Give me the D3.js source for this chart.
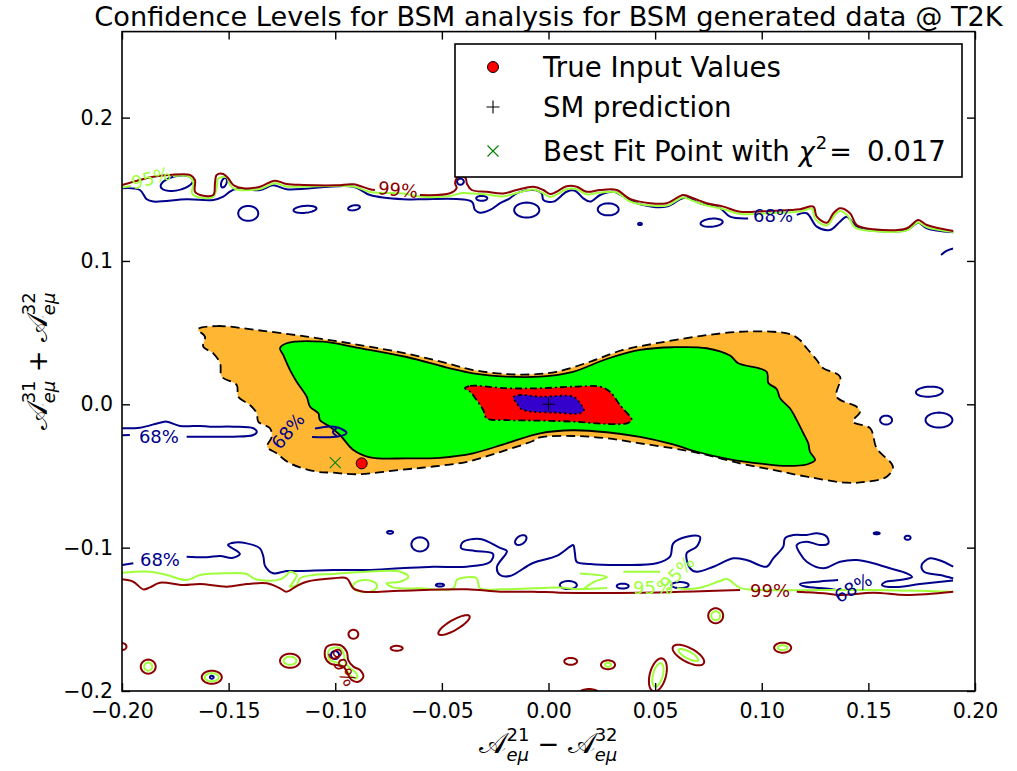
<!DOCTYPE html>
<html>
<head>
<meta charset="utf-8">
<script src="https://cdn.jsdelivr.net/npm/d3@7"></script>
<style>
  body { margin: 0; background: #fff; }
  svg text { font-family: "DejaVu Sans", sans-serif; }
</style>
</head>
<body>
<svg id="chart" width="1017" height="771"></svg>
<script>
// ---------------- data ----------------
const xTicks = [-0.2, -0.15, -0.1, -0.05, 0, 0.05, 0.1, 0.15, 0.2];
const yTicks = [-0.2, -0.1, 0, 0.1, 0.2];

// filled confidence regions (outer to inner)
const orangeRegion = [[-0.1644,0.0523],[-0.1556,0.0546],[-0.1368,0.0518],[-0.1134,0.0472],[-0.0899,0.0417],[-0.0665,0.0354],[-0.0462,0.0281],[-0.0354,0.0239],[-0.0196,0.0211],[-0.0073,0.0209],[0.0038,0.0227],[0.0195,0.0297],[0.0349,0.0379],[0.0507,0.0426],[0.0710,0.0476],[0.0898,0.0506],[0.1053,0.0506],[0.1132,0.0490],[0.1179,0.0449],[0.1211,0.0391],[0.1258,0.0309],[0.1287,0.0253],[0.1367,0.0193],[0.1351,0.0053],[0.1445,-0.0017],[0.1461,-0.0052],[0.1428,-0.0121],[0.1508,-0.0167],[0.1539,-0.0307],[0.1615,-0.0435],[0.1586,-0.0505],[0.1492,-0.0540],[0.1398,-0.0547],[0.1211,-0.0505],[0.1053,-0.0458],[0.0898,-0.0412],[0.0710,-0.0342],[0.0584,-0.0307],[0.0429,-0.0272],[0.0273,-0.0237],[0.0115,-0.0221],[-0.0040,-0.0231],[-0.0073,-0.0256],[-0.0227,-0.0333],[-0.0387,-0.0403],[-0.0542,-0.0434],[-0.0696,-0.0458],[-0.0899,-0.0488],[-0.1011,-0.0477],[-0.1087,-0.0470],[-0.1212,-0.0412],[-0.1275,-0.0342],[-0.1319,-0.0296],[-0.1298,-0.0226],[-0.1306,-0.0167],[-0.1361,-0.0121],[-0.1368,-0.0063],[-0.1400,-0.0005],[-0.1455,0.0053],[-0.1462,0.0135],[-0.1532,0.0193],[-0.1540,0.0286],[-0.1572,0.0356],[-0.1619,0.0402],[-0.1611,0.0472]];
const greenRegion = [[-0.1259,0.0391],[-0.1228,0.0426],[-0.1056,0.0437],[-0.0899,0.0396],[-0.0665,0.0330],[-0.0462,0.0251],[-0.0354,0.0216],[-0.0196,0.0193],[-0.0040,0.0193],[0.0115,0.0227],[0.0273,0.0316],[0.0429,0.0379],[0.0584,0.0398],[0.0742,0.0391],[0.0851,0.0340],[0.0890,0.0286],[0.1023,0.0227],[0.1031,0.0149],[0.1070,0.0107],[0.1086,0.0042],[0.1132,-0.0028],[0.1164,-0.0110],[0.1195,-0.0202],[0.1218,-0.0272],[0.1226,-0.0331],[0.1250,-0.0389],[0.1211,-0.0420],[0.1117,-0.0430],[0.1007,-0.0416],[0.0851,-0.0384],[0.0695,-0.0331],[0.0584,-0.0280],[0.0429,-0.0228],[0.0273,-0.0195],[0.0115,-0.0181],[-0.0040,-0.0202],[-0.0196,-0.0272],[-0.0354,-0.0342],[-0.0509,-0.0373],[-0.0665,-0.0377],[-0.0837,-0.0370],[-0.0915,-0.0319],[-0.0978,-0.0214],[-0.1025,-0.0156],[-0.1072,-0.0110],[-0.1079,-0.0063],[-0.1118,-0.0017],[-0.1134,0.0053],[-0.1181,0.0158],[-0.1212,0.0239],[-0.1244,0.0344]];
const redRegion = [[-0.0392,0.0112],[-0.0368,0.0128],[-0.0196,0.0112],[-0.0040,0.0112],[0.0116,0.0123],[0.0242,0.0123],[0.0288,0.0088],[0.0335,-0.0005],[0.0390,-0.0110],[0.0367,-0.0133],[0.0273,-0.0137],[0.0116,-0.0121],[-0.0040,-0.0114],[-0.0196,-0.0110],[-0.0290,-0.0098],[-0.0306,-0.0040],[-0.0337,0.0030],[-0.0368,0.0088]];
const blueRegion = [[-0.0165,0.0049],[-0.0134,0.0065],[-0.0040,0.0053],[0.0116,0.0053],[0.0148,0.0007],[0.0166,-0.0040],[0.0148,-0.0063],[0.0038,-0.0059],[-0.0071,-0.0052],[-0.0126,-0.0035],[-0.0149,0.0007]];

// 68% contour lines (open pieces)
const line68 = [
  [[-0.2,0.1507],[-0.1916,0.1495],[-0.1884,0.1430],[-0.1853,0.1414],[-0.1697,0.1430],[-0.1572,0.1426],[-0.1525,0.1449],[-0.1494,0.1483],[-0.1470,0.1500],[-0.1353,0.1495],[-0.1291,0.1528],[-0.1228,0.1500],[-0.0915,0.1518],[-0.0837,0.1460],[-0.0681,0.1430],[-0.0603,0.1430],[-0.0360,0.1414],[-0.0345,0.1356],[-0.0321,0.1337],[-0.0274,0.1356],[-0.0227,0.1403],[-0.0181,0.1437],[-0.0149,0.1472],[-0.0071,0.1495],[-0.0032,0.1472],[-0.0024,0.1426],[0.0023,0.1414],[0.0085,0.1483],[0.0124,0.1490],[0.0163,0.1437],[0.0195,0.1414],[0.0242,0.1460],[0.0304,0.1483],[0.0367,0.1437],[0.0429,0.1396],[0.0554,0.1379],[0.0617,0.1430],[0.0648,0.1442],[0.0710,0.1403],[0.0804,0.1368],[0.0851,0.1309],[0.0936,0.1297]],
  [[0.1164,0.1321],[0.1211,0.1333],[0.1258,0.1239],[0.1320,0.1216],[0.1367,0.1274],[0.1398,0.1309],[0.1445,0.1239],[0.1492,0.1216],[0.1680,0.1216],[0.1734,0.1267],[0.1774,0.1228],[0.1898,0.1200]],
  [[0.1841,0.1042],[0.1864,0.1069],[0.1897,0.1087]],
  [[-0.2,-0.0167],[-0.1916,-0.0163],[-0.1822,-0.0128],[-0.1790,-0.0121],[-0.1728,-0.0151],[-0.1634,-0.0151],[-0.1587,-0.0156],[-0.1478,-0.0156],[-0.1384,-0.0167],[-0.1368,-0.0191],[-0.1384,-0.0214],[-0.1478,-0.0226],[-0.1587,-0.0226],[-0.1697,-0.0226]],
  [[-0.1963,-0.0214],[-0.2,-0.0216]],
  [[-0.1095,-0.0169],[-0.1025,-0.0155],[-0.0987,-0.0162],[-0.0947,-0.0200],[-0.0987,-0.0225],[-0.1109,-0.0228]],
  [[-0.0992,-0.0164],[-0.1011,-0.0193],[-0.0992,-0.0223]],
  [[-0.2,-0.1121],[-0.1947,-0.1109]],
  [[-0.1697,-0.1063],[-0.1603,-0.1067],[-0.1540,-0.1058],[-0.1484,-0.1072],[-0.1447,-0.1044],[-0.1484,-0.1002],[-0.1503,-0.0982],[-0.1470,-0.0964],[-0.1415,-0.0970],[-0.1353,-0.1005],[-0.1337,-0.1063],[-0.1329,-0.1128],[-0.1291,-0.1179],[-0.1228,-0.1163],[-0.1165,-0.1163],[-0.1009,-0.1156],[-0.0853,-0.1156],[-0.0696,-0.1144],[-0.0540,-0.1133],[-0.0384,-0.1133],[-0.0274,-0.1100],[-0.0260,-0.1044],[-0.0345,-0.1023],[-0.0410,-0.1002],[-0.0401,-0.0961],[-0.0321,-0.0940],[-0.0227,-0.1002],[-0.0195,-0.1023],[-0.0242,-0.1135],[-0.0227,-0.1191],[-0.0181,-0.1198],[-0.0073,-0.1107],[0.0038,-0.1058],[0.0101,-0.0993],[0.0116,-0.0982],[0.0124,-0.1039],[0.0132,-0.1098],[0.0195,-0.1114],[0.0351,-0.1121],[0.0507,-0.1109],[0.0570,-0.1063],[0.0585,-0.0970],[0.0648,-0.0924],[0.0710,-0.0924],[0.0695,-0.0993],[0.0648,-0.1039],[0.0664,-0.1144],[0.0695,-0.1168],[0.0773,-0.1133],[0.0867,-0.1074],[0.0929,-0.1086],[0.1023,-0.1133],[0.1054,-0.1074],[0.1101,-0.0993],[0.1109,-0.0935],[0.1148,-0.0912],[0.1211,-0.0912],[0.1258,-0.0900],[0.1305,-0.0924],[0.1312,-0.0970],[0.1273,-0.0982],[0.1211,-0.0958],[0.1164,-0.0982],[0.1179,-0.1039],[0.1211,-0.1098],[0.1289,-0.1144],[0.1367,-0.1098],[0.1445,-0.1086],[0.1523,-0.1109],[0.1601,-0.1144],[0.1680,-0.1179],[0.1705,-0.1205],[0.1648,-0.1226],[0.1578,-0.1240],[0.1564,-0.1261],[0.1625,-0.1275],[0.1742,-0.1254],[0.1897,-0.1229]],
  [[0.1358,-0.1226],[0.1273,-0.1236],[0.1179,-0.1254],[0.1203,-0.1271],[0.1301,-0.1285],[0.1348,-0.1295]],
  [[0.1898,-0.1133],[0.1851,-0.1098],[0.1789,-0.1074],[0.1750,-0.1121],[0.1761,-0.1168],[0.1836,-0.1191],[0.1898,-0.1215]]
];

// 95% contour lines (open pieces)
const line95 = [
  [[-0.2,0.1513],[-0.1958,0.1523]],
  [[-0.1761,0.1593],[-0.1681,0.1586],[-0.1665,0.1544],[-0.1672,0.1474],[-0.1648,0.1447],[-0.1572,0.1447],[-0.1556,0.1516],[-0.1548,0.1576],[-0.1509,0.1583],[-0.1494,0.1530],[-0.1470,0.1502],[-0.1353,0.1502],[-0.1283,0.1542],[-0.1228,0.1520],[-0.0915,0.1520],[-0.0837,0.1481],[-0.0681,0.1471],[-0.0603,0.1449],[-0.0462,0.1453],[-0.0406,0.1474],[-0.0359,0.1471],[-0.0288,0.1464],[-0.0213,0.1450],[-0.0148,0.1474],[-0.0073,0.1499],[-0.0026,0.1474],[0.0007,0.1447],[0.0040,0.1464],[0.0087,0.1502],[0.0134,0.1499],[0.0181,0.1464],[0.0242,0.1478],[0.0321,0.1478],[0.0382,0.1415],[0.0476,0.1387],[0.0556,0.1387],[0.0631,0.1443],[0.0678,0.1419],[0.0743,0.1387],[0.0818,0.1363],[0.0898,0.1328],[0.1053,0.1335],[0.1179,0.1345],[0.1236,0.1363],[0.1250,0.1293],[0.1306,0.1248],[0.1339,0.1314],[0.1367,0.1349],[0.1404,0.1314],[0.1437,0.1234],[0.1522,0.1209],[0.1681,0.1213],[0.1733,0.1269],[0.1776,0.1234],[0.1897,0.1202]],
  [[-0.2,-0.1175],[-0.1869,-0.1168],[-0.1790,-0.1191],[-0.1697,-0.1226],[-0.1634,-0.1191],[-0.1509,-0.1179],[-0.1415,-0.1184],[-0.1384,-0.1214],[-0.1353,-0.1226],[-0.1259,-0.1221],[-0.1228,-0.1191],[-0.1212,-0.1168],[-0.1181,-0.1191],[-0.1197,-0.1238],[-0.1212,-0.1272],[-0.1181,-0.1261],[-0.1165,-0.1214],[-0.1103,-0.1191],[-0.1009,-0.1184],[-0.0853,-0.1168],[-0.0696,-0.1168],[-0.0657,-0.1203],[-0.0696,-0.1238],[-0.0759,-0.1249],[-0.0728,-0.1277],[-0.0603,-0.1284],[-0.0446,-0.1284],[-0.0430,-0.1226],[-0.0384,-0.1207],[-0.0337,-0.1214],[-0.0321,-0.1284],[-0.0227,-0.1291],[-0.0071,-0.1284],[0.0054,-0.1278],[0.0124,-0.1288],[0.0274,-0.1281]],
  [[0.0603,-0.1284],[0.0696,-0.1284],[0.0804,-0.1233],[0.0837,-0.1219],[0.0898,-0.1281],[0.0992,-0.1295],[0.1522,-0.1295],[0.1897,-0.1307]],
  [[0.0148,-0.1180],[0.0274,-0.1205],[0.0218,-0.1236],[0.0162,-0.1292]],
  [[0.0351,-0.1168],[0.0523,-0.1168]]
];

// 99% contour lines (open pieces)
const line99 = [
  [[-0.2,0.1530],[-0.1853,0.1588],[-0.1775,0.1600],[-0.1681,0.1600],[-0.1658,0.1565],[-0.1658,0.1483],[-0.1634,0.1460],[-0.1572,0.1460],[-0.1564,0.1542],[-0.1556,0.1600],[-0.1525,0.1607],[-0.1502,0.1577],[-0.1478,0.1530],[-0.1431,0.1507],[-0.1353,0.1518],[-0.1283,0.1560],[-0.1228,0.1537],[-0.1150,0.1530],[-0.0993,0.1528],[-0.0915,0.1535],[-0.0837,0.1500],[-0.0814,0.1495]],
  [[-0.0603,0.1460],[-0.0462,0.1472],[-0.0431,0.1509],[-0.0438,0.1542],[-0.0430,0.1577],[-0.0410,0.1590],[-0.0389,0.1579],[-0.0382,0.1537],[-0.0360,0.1495],[-0.0290,0.1483],[-0.0212,0.1471],[-0.0149,0.1495],[-0.0071,0.1518],[-0.0024,0.1495],[0.0007,0.1467],[0.0038,0.1483],[0.0085,0.1521],[0.0132,0.1518],[0.0179,0.1483],[0.0242,0.1495],[0.0320,0.1495],[0.0382,0.1433],[0.0476,0.1403],[0.0554,0.1403],[0.0632,0.1460],[0.0679,0.1437],[0.0742,0.1403],[0.0820,0.1379],[0.0898,0.1344],[0.1054,0.1351],[0.1179,0.1361],[0.1242,0.1379],[0.1258,0.1309],[0.1305,0.1267],[0.1336,0.1333],[0.1367,0.1368],[0.1414,0.1333],[0.1445,0.1251],[0.1523,0.1221],[0.1680,0.1228],[0.1734,0.1286],[0.1774,0.1251],[0.1898,0.1209]],
  [[-0.2,-0.1221],[-0.1947,-0.1238],[-0.1900,-0.1291],[-0.1869,-0.1277],[-0.1822,-0.1245],[-0.1713,-0.1261],[-0.1634,-0.1254],[-0.1509,-0.1272],[-0.1415,-0.1254],[-0.1321,-0.1249],[-0.1259,-0.1284],[-0.1228,-0.1307],[-0.1181,-0.1268],[-0.1134,-0.1238],[-0.1009,-0.1214],[-0.0946,-0.1214],[-0.0915,-0.1284],[-0.0868,-0.1307],[-0.0696,-0.1300],[-0.0384,-0.1291],[-0.0227,-0.1307],[-0.0071,-0.1307],[0.0054,-0.1314],[0.0429,-0.1314],[0.0898,-0.1295]],
  [[0.1164,-0.1307],[0.1289,-0.1318],[0.1367,-0.1330],[0.1523,-0.1314],[0.1680,-0.1330],[0.1898,-0.1307]]
];

// closed contour pieces near (-0.1, -0.18)
const loop95 = [[-0.1025,-0.1707],[-0.0978,-0.1700],[-0.0959,-0.1749],[-0.0954,-0.1798],[-0.0931,-0.1840],[-0.0903,-0.1874],[-0.0898,-0.1909],[-0.0921,-0.1902],[-0.0954,-0.1840],[-0.0987,-0.1805],[-0.1025,-0.1784],[-0.1034,-0.1742]];
const loop99 = [[-0.1040,-0.1691],[-0.0978,-0.1679],[-0.0946,-0.1726],[-0.0939,-0.1784],[-0.0915,-0.1830],[-0.0884,-0.1854],[-0.0868,-0.1900],[-0.0892,-0.1935],[-0.0923,-0.1923],[-0.0962,-0.1830],[-0.0993,-0.1819],[-0.1025,-0.1807],[-0.1048,-0.1761]];

// small closed islands: [centre x, centre y, half-width, half-height, tilt in degrees]
const islands68 = [[-0.1743,0.1542,0.0077,0.0049,-12],[-0.1408,0.1332,0.0047,0.0052,0],[-0.1142,0.1360,0.0054,0.0024,-5],[-0.0912,0.1371,0.0028,0.0017,-10],[-0.1522,0.1546,0.0012,0.0035,20],[-0.0413,0.1553,0.0016,0.0021,0],[-0.0313,0.1437,0.0026,0.0017,0],[-0.0102,0.1355,0.0059,0.0052,0],[0.0280,0.1360,0.0049,0.0042,0],[0.0765,0.1267,0.0052,0.0028,-5],[0.0429,0.1258,0.0009,0.0008,0],[0.1786,0.0088,0.0063,0.0035,-3],[0.1831,-0.0110,0.0063,0.0052,0],[0.1583,-0.0110,0.0028,0.0031,0],[-0.0603,-0.0977,0.0040,0.0049,0],[-0.0130,-0.0947,0.0030,0.0028,-35],[-0.0743,-0.0893,0.0014,0.0010,0],[-0.0509,-0.1261,0.0019,0.0010,0],[0.0093,-0.1261,0.0040,0.0028,0],[0.0348,-0.1268,0.0028,0.0017,0],[0.0617,-0.1261,0.0040,0.0021,0],[0.1539,-0.0900,0.0014,0.0007,0],[0.1684,-0.0931,0.0014,0.0014,0],[-0.1001,-0.1749,0.0019,0.0028,0],[-0.1579,-0.1904,0.0009,0.0010,0]];
const islands95 = [[-0.0860,-0.1268,0.0056,0.0042,0],[-0.1212,-0.1789,0.0030,0.0028,0],[-0.1877,-0.1830,0.0019,0.0028,0],[-0.1579,-0.1904,0.0033,0.0028,0],[0.0784,-0.1475,0.0021,0.0031,0],[0.0656,-0.1749,0.0052,0.0024,28],[0.1098,-0.1698,0.0023,0.0017,0],[0.0279,-0.1817,0.0014,0.0014,0],[0.0513,-0.1888,0.0023,0.0084,15],[0.0190,-0.2021,0.0028,0.0021,0]];
const islands99 = [[-0.0443,-0.1540,0.0084,0.0035,-30],[-0.0915,-0.1604,0.0023,0.0031,0],[-0.0712,-0.1702,0.0028,0.0017,0],[-0.1212,-0.1789,0.0047,0.0049,0],[-0.1877,-0.1830,0.0035,0.0049,0],[-0.1579,-0.1904,0.0047,0.0045,0],[-0.2,-0.1690,0.0021,0.0024,0],[0.0784,-0.1475,0.0035,0.0052,0],[0.0656,-0.1749,0.0082,0.0049,28],[0.1098,-0.1698,0.0040,0.0035,0],[0.0104,-0.1793,0.0030,0.0024,0],[0.0279,-0.1817,0.0033,0.0031,0],[0.0513,-0.1888,0.0038,0.0119,15],[0.0190,-0.2021,0.0047,0.0035,0]];

// inline contour labels
const contourLabels = [
  { text: "95%", x: -0.1864, y: 0.1579, rot: -15, level: 95 },
  { text: "99%", x: -0.0706, y: 0.1498, rot: 6, level: 99 },
  { text: "68%", x: 0.1053, y: 0.1314, rot: 0, level: 68 },
  { text: "68%", x: -0.1827, y: -0.0225, rot: 0, level: 68 },
  { text: "68%", x: -0.1222, y: -0.0186, rot: -50, level: 68 },
  { text: "68%", x: -0.1822, y: -0.1086, rot: 0, level: 68 },
  { text: "95%", x: 0.0490, y: -0.1281, rot: 0, level: 95 },
  { text: "95%", x: 0.0603, y: -0.1177, rot: -45, level: 95 },
  { text: "99%", x: 0.1039, y: -0.1302, rot: 0, level: 99 },
  { text: "68%", x: 0.1428, y: -0.1281, rot: -30, level: 68 },
  { text: "99%", x: -0.0968, y: -0.1833, rot: 62, level: 99 }
];

// points
const trueInput = [-0.0876, -0.0412];
const smPoint = [0, 0];
const bestFit = [-0.100, -0.0407];
const bestFitChi2 = 0.017;
const legendLabels = ["True Input Values", "SM prediction", "Best Fit Point with"];

// ---------------- drawing ----------------
const levelColor = { 68: "#00008b", 95: "#9eff3a", 99: "#8b0000" };

const svg = d3.select("#chart");
svg.append("rect").attr("width", 1017).attr("height", 771).attr("fill", "#fff");

const x = d3.scaleLinear().domain([-0.2, 0.2]).range([122, 975]);
const y = d3.scaleLinear().domain([-0.2, 0.26]).range([691, 31.6]);
const [x0, x1] = x.range(), [y0, y1] = y.range();

svg.append("defs").append("clipPath").attr("id", "plotClip")
  .append("rect").attr("x", x0).attr("y", y1).attr("width", x1 - x0).attr("height", y0 - y1);

const plot = svg.append("g").attr("clip-path", "url(#plotClip)");

const closedCurve = d3.line().x(d => x(d[0])).y(d => y(d[1])).curve(d3.curveCatmullRomClosed.alpha(0.5));
const openCurve = d3.line().x(d => x(d[0])).y(d => y(d[1])).curve(d3.curveCatmullRom.alpha(0.5));

function ellipse(d) {
  const [cx, cy, rx, ry, ang] = d;
  const sx = x(cx), sy = y(cy);
  const a = x(cx + rx) - sx, b = sy - y(cy + ry);
  const th = ang * Math.PI / 180, n = 48;
  const pts = d3.range(n).map(i => {
    const t = 2 * Math.PI * i / n;
    const ex = a * Math.cos(t), ey = b * Math.sin(t);
    return [sx + ex * Math.cos(th) - ey * Math.sin(th), sy + ex * Math.sin(th) + ey * Math.cos(th)];
  });
  return d3.line().curve(d3.curveLinearClosed)(pts);
}

// filled regions with black outlines
const fills = [
  { pts: orangeRegion, fill: "#ffb733", dash: "9,5" },
  { pts: greenRegion, fill: "#00ff00", dash: null },
  { pts: redRegion, fill: "#ff0000", dash: "7,3,2,3" },
  { pts: blueRegion, fill: "#3300cc", dash: "2,3" }
];
fills.forEach(f => {
  plot.append("path")
    .attr("d", closedCurve(f.pts))
    .attr("fill", f.fill)
    .attr("stroke", "#000")
    .attr("stroke-width", 1.8)
    .attr("stroke-dasharray", f.dash);
});

// contour lines
const contourSets = [
  { level: 68, open: line68, closed: [], islands: islands68 },
  { level: 95, open: line95, closed: [loop95], islands: islands95 },
  { level: 99, open: line99, closed: [loop99], islands: islands99 }
];
contourSets.forEach(s => {
  const g = plot.append("g")
    .attr("fill", "none")
    .attr("stroke", levelColor[s.level])
    .attr("stroke-width", 2)
    .attr("stroke-linejoin", "round");
  s.open.forEach(seg => g.append("path").attr("d", openCurve(seg)));
  s.closed.forEach(seg => g.append("path").attr("d", closedCurve(seg)));
  s.islands.forEach(e => g.append("path").attr("d", ellipse(e)));
});

// contour labels
plot.selectAll("text.clabel").data(contourLabels).join("text")
  .attr("class", "clabel")
  .attr("transform", d => `translate(${x(d.x)},${y(d.y)}) rotate(${d.rot})`)
  .attr("text-anchor", "middle")
  .attr("dominant-baseline", "central")
  .attr("font-size", 18)
  .attr("fill", d => levelColor[d.level])
  .text(d => d.text);

// markers
function drawTrue(g, cx, cy) {
  g.append("circle").attr("cx", cx).attr("cy", cy).attr("r", 5.5)
    .attr("fill", "#ff0000").attr("stroke", "#000").attr("stroke-width", 1);
}
function drawPlus(g, cx, cy) {
  g.append("path").attr("d", `M${cx - 6.5},${cy}H${cx + 6.5}M${cx},${cy - 6.5}V${cy + 6.5}`)
    .attr("stroke", "#000").attr("stroke-width", 1.1);
}
function drawCross(g, cx, cy) {
  g.append("path").attr("d", `M${cx - 5.5},${cy - 5.5}L${cx + 5.5},${cy + 5.5}M${cx - 5.5},${cy + 5.5}L${cx + 5.5},${cy - 5.5}`)
    .attr("stroke", "#008000").attr("stroke-width", 1.1);
}
drawCross(plot, x(bestFit[0]), y(bestFit[1]));
drawTrue(plot, x(trueInput[0]), y(trueInput[1]));
drawPlus(plot, x(smPoint[0]), y(smPoint[1]));

// axes: ticks inside on all four sides
const fmtX = d3.format(".2f"), fmtY = d3.format(".1f");
function styleAxis(g) {
  g.select(".domain").remove();
  g.selectAll(".tick line").attr("stroke", "#000").attr("stroke-width", 1.4);
  g.selectAll(".tick text").attr("font-family", "DejaVu Sans").attr("font-size", 20.5).attr("fill", "#000");
}
svg.append("g").attr("transform", `translate(0,${y0})`)
  .call(d3.axisBottom(x).tickValues(xTicks).tickSizeInner(-8).tickSizeOuter(0).tickPadding(12).tickFormat(fmtX))
  .call(styleAxis);
svg.append("g").attr("transform", `translate(0,${y1})`)
  .call(d3.axisTop(x).tickValues(xTicks).tickSizeInner(-8).tickSizeOuter(0).tickFormat(""))
  .call(styleAxis);
svg.append("g").attr("transform", `translate(${x0},0)`)
  .call(d3.axisLeft(y).tickValues(yTicks).tickSizeInner(-8).tickSizeOuter(0).tickPadding(9).tickFormat(fmtY))
  .call(styleAxis);
svg.append("g").attr("transform", `translate(${x1},0)`)
  .call(d3.axisRight(y).tickValues(yTicks).tickSizeInner(-8).tickSizeOuter(0).tickFormat(""))
  .call(styleAxis);
svg.append("rect").attr("x", x0).attr("y", y1).attr("width", x1 - x0).attr("height", y0 - y1)
  .attr("fill", "none").attr("stroke", "#000").attr("stroke-width", 1.6);

// title
svg.append("text").attr("x", (x0 + x1) / 2).attr("y", 26).attr("text-anchor", "middle")
  .attr("font-size", 27.2).attr("fill", "#000")
  .text("Confidence Levels for BSM analysis for BSM generated data @ T2K");

// math-style axis labels laid out piece by piece
function mathLabel(g, parts) {
  let cx = 0;
  parts.forEach(p => {
    if (p.t !== undefined) {
      const el = g.append("text").attr("x", cx).attr("y", 0)
        .attr("font-family", p.font || "DejaVu Serif, serif")
        .attr("font-style", p.italic ? "italic" : "normal")
        .attr("font-size", p.size || 27).attr("fill", "#000")
        .attr("xml:space", "preserve").text(p.t);
      cx += el.node().getComputedTextLength() + (p.after || 0);
    } else {
      const a = g.append("text").attr("x", cx).attr("y", -12)
        .attr("font-family", "DejaVu Serif, serif").attr("font-size", 18).attr("fill", "#000").text(p.sup);
      const b = g.append("text").attr("x", cx).attr("y", 8)
        .attr("font-family", "DejaVu Serif, serif").attr("font-style", "italic")
        .attr("font-size", 18).attr("fill", "#000").text(p.sub);
      cx += Math.max(a.node().getComputedTextLength(), b.node().getComputedTextLength());
    }
  });
  g.selectAll("text").attr("transform", `translate(${-cx / 2},0)`);
}
const calA = { t: "\u{1D49C}", size: 29 };
const xl = svg.append("g").attr("transform", `translate(${(x0 + x1) / 2},753)`);
mathLabel(xl, [calA, { sup: "21", sub: "eμ" }, { t: " − ", size: 26 }, calA, { sup: "32", sub: "eμ" }]);
const yl = svg.append("g").attr("transform", `translate(47,${(y0 + y1) / 2}) rotate(-90)`);
mathLabel(yl, [calA, { sup: "31", sub: "eμ" }, { t: " + ", size: 26 }, calA, { sup: "32", sub: "eμ" }]);

// legend
const lg = svg.append("g");
lg.append("rect").attr("x", 455).attr("y", 44).attr("width", 507).attr("height", 133)
  .attr("fill", "#fff").attr("stroke", "#000").attr("stroke-width", 1.6);
const rowsY = [67, 107, 151];
drawTrue(lg, 493, rowsY[0]);
drawPlus(lg, 493, rowsY[1]);
drawCross(lg, 493, rowsY[2]);
legendLabels.forEach((t, i) => {
  lg.append("text").attr("x", 543).attr("y", rowsY[i] + 9.5)
    .attr("font-size", 27.6).attr("fill", "#000").attr("xml:space", "preserve").text(t);
});
// chi-square value after the third label
{
  const base = lg.selectAll("text").filter((d, i) => i === 2).node();
  let cx = 543 + base.getComputedTextLength() + 9;
  const yb = rowsY[2] + 9.5;
  const chi = lg.append("text").attr("x", cx).attr("y", yb).attr("font-family", "DejaVu Serif, serif")
    .attr("font-style", "italic").attr("font-size", 27).text("χ");
  cx += chi.node().getComputedTextLength() + 1;
  const sq = lg.append("text").attr("x", cx).attr("y", yb - 12).attr("font-family", "DejaVu Serif, serif")
    .attr("font-size", 18).text("2");
  cx += sq.node().getComputedTextLength() + 2;
  const eq = lg.append("text").attr("x", cx).attr("y", yb).attr("font-family", "DejaVu Serif, serif")
    .attr("font-size", 27).text("=");
  cx += eq.node().getComputedTextLength() + 15;
  lg.append("text").attr("x", cx).attr("y", yb).attr("font-size", 27.6).text(d3.format(".3f")(bestFitChi2));
}
</script>
</body>
</html>
